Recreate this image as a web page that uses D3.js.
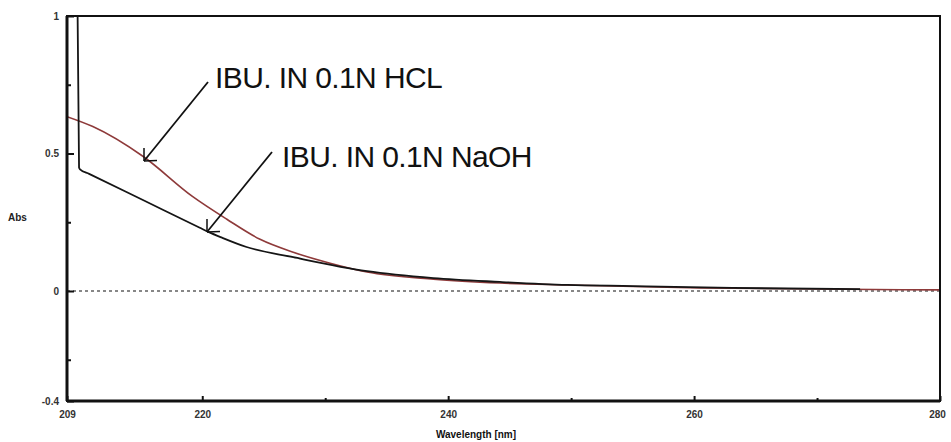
<!DOCTYPE html>
<html>
<head>
<meta charset="utf-8">
<script src="https://cdnjs.cloudflare.com/ajax/libs/d3/7.8.5/d3.min.js"></script>
<style>
  body { margin: 0; background: #fff; }
  svg { display: block; }
</style>
</head>
<body>
<div id="vis"></div>
<script>
// wavelength (nm) and absorbance
var naohWl  = [209.8, 209.98, 210.06, 210.8, 215.3, 219.8, 220.54, 221.6, 223.6, 227.4, 233.4, 238.8, 244.2, 249.7, 255.0, 263.1, 273.5];
var naohAbs = [1.3, 0.449, 0.442, 0.426, 0.328, 0.230, 0.214, 0.194, 0.160, 0.123, 0.072, 0.047, 0.033, 0.022, 0.018, 0.011, 0.007];
var hclWl   = [209.0, 211.1, 215.2, 219.2, 222.0, 224.7, 227.4, 230.4, 233.4, 238.8, 244.2, 249.7, 260.5, 280.0];
var hclAbs  = [0.634, 0.598, 0.489, 0.344, 0.261, 0.188, 0.141, 0.101, 0.069, 0.043, 0.029, 0.022, 0.011, 0.004];

var xTickLabels = [209, 220, 240, 260, 280];
var xMinorTicks = [230, 250, 270];
var yTickLabels = [1, 0.5, 0, -0.4];
var yMinorTicks = [0.75, 0.25, -0.25];

function draw() {
  var width = 951, height = 442;
  var left = 67, right = 940, top = 16, bottom = 401;

  var x = d3.scaleLinear().domain([209, 280]).range([left, right]);
  var y = d3.scaleLinear().domain([-0.4, 1]).range([bottom, top]);

  var svg = d3.select("#vis").append("svg")
              .attr("width", width)
              .attr("height", height);

  svg.append("defs").append("clipPath").attr("id", "plot")
     .append("rect")
     .attr("x", left).attr("y", top)
     .attr("width", right - left).attr("height", bottom - top);

  // zero line
  svg.append("line")
     .attr("x1", left).attr("x2", right)
     .attr("y1", y(0)).attr("y2", y(0))
     .attr("stroke", "#111")
     .attr("stroke-width", 1.2)
     .attr("stroke-dasharray", "3,3");

  var line = d3.line()
               .x(function(d) { return x(d[0]); })
               .y(function(d) { return y(d[1]); })
               .curve(d3.curveMonotoneX);

  var hcl = d3.zip(hclWl, hclAbs);
  var naoh = d3.zip(naohWl, naohAbs);

  var g = svg.append("g").attr("clip-path", "url(#plot)");
  g.append("path")
   .datum(hcl)
   .attr("d", line)
   .attr("fill", "none")
   .attr("stroke", "#8e3a3a")
   .attr("stroke-width", 1.6);
  g.append("path")
   .datum(naoh)
   .attr("d", line)
   .attr("fill", "none")
   .attr("stroke", "#151515")
   .attr("stroke-width", 1.8);

  // frame
  svg.append("rect")
     .attr("x", left).attr("y", top)
     .attr("width", right - left).attr("height", bottom - top)
     .attr("fill", "none")
     .attr("stroke", "#111")
     .attr("stroke-width", 2);
  svg.append("line")
     .attr("x1", left).attr("x2", left).attr("y1", top).attr("y2", bottom)
     .attr("stroke", "#111").attr("stroke-width", 3);
  svg.append("line")
     .attr("x1", left).attr("x2", right).attr("y1", bottom).attr("y2", bottom)
     .attr("stroke", "#111").attr("stroke-width", 3);

  // axes with inward ticks
  var yAxis = d3.axisLeft(y).tickValues(yTickLabels).tickSize(-7).tickPadding(12)
                .tickFormat(function(d) { return d; });
  var yg = svg.append("g").attr("transform", "translate(" + left + ",0)").call(yAxis);
  var yMinor = d3.axisLeft(y).tickValues(yMinorTicks).tickSize(-4).tickFormat("");
  var ymg = svg.append("g").attr("transform", "translate(" + left + ",0)").call(yMinor);

  var xAxis = d3.axisBottom(x).tickValues(xTickLabels).tickSize(-5).tickPadding(10)
                .tickFormat(function(d) { return d; });
  var xg = svg.append("g").attr("transform", "translate(0," + bottom + ")").call(xAxis);
  var xMinor = d3.axisBottom(x).tickValues(xMinorTicks).tickSize(-3).tickFormat("");
  var xmg = svg.append("g").attr("transform", "translate(0," + bottom + ")").call(xMinor);

  [yg, ymg, xg, xmg].forEach(function(a) {
    a.select(".domain").remove();
    a.selectAll(".tick line").attr("stroke", "#111").attr("stroke-width", 2);
    a.selectAll(".tick text")
     .attr("font-family", "Liberation Sans, Arial, sans-serif")
     .attr("font-size", 10)
     .attr("font-weight", "bold")
     .attr("fill", "#333");
  });
  yg.selectAll(".tick text").attr("dx", 4);
  xg.selectAll(".tick text").filter(function(d) { return d === 280; }).attr("dx", -3);

  svg.append("text")
     .attr("x", 8).attr("y", 221)
     .attr("font-family", "Liberation Sans, Arial, sans-serif")
     .attr("font-size", 10).attr("font-weight", "bold")
     .attr("fill", "#222")
     .text("Abs");
  svg.append("text")
     .attr("x", 476).attr("y", 438)
     .attr("text-anchor", "middle")
     .attr("font-family", "Liberation Sans, Arial, sans-serif")
     .attr("font-size", 10).attr("font-weight", "bold")
     .attr("fill", "#111")
     .text("Wavelength [nm]");

  // callouts
  var notes = [
    { text: "IBU. IN 0.1N HCL", tx: 215, ty: 88, from: [208, 82], to: [144, 161] },
    { text: "IBU. IN 0.1N NaOH", tx: 282, ty: 167, from: [272, 152], to: [207, 232] }
  ];
  notes.forEach(function(n) {
    svg.append("line")
       .attr("x1", n.from[0]).attr("y1", n.from[1])
       .attr("x2", n.to[0]).attr("y2", n.to[1])
       .attr("stroke", "#111").attr("stroke-width", 1.8);
    var a = Math.atan2(n.from[1] - n.to[1], n.from[0] - n.to[0]);
    [-0.68, 0.85].forEach(function(off) {
      svg.append("line")
         .attr("x1", n.to[0]).attr("y1", n.to[1])
         .attr("x2", n.to[0] + 13 * Math.cos(a + off))
         .attr("y2", n.to[1] + 13 * Math.sin(a + off))
         .attr("stroke", "#111").attr("stroke-width", 1.5);
    });
    svg.append("text")
       .attr("x", n.tx).attr("y", n.ty)
       .attr("font-family", "Liberation Sans, Arial, sans-serif")
       .attr("font-size", 30)
       .attr("letter-spacing", -0.6)
       .attr("fill", "#111")
       .text(n.text);
  });
}

draw();
</script>
</body>
</html>
